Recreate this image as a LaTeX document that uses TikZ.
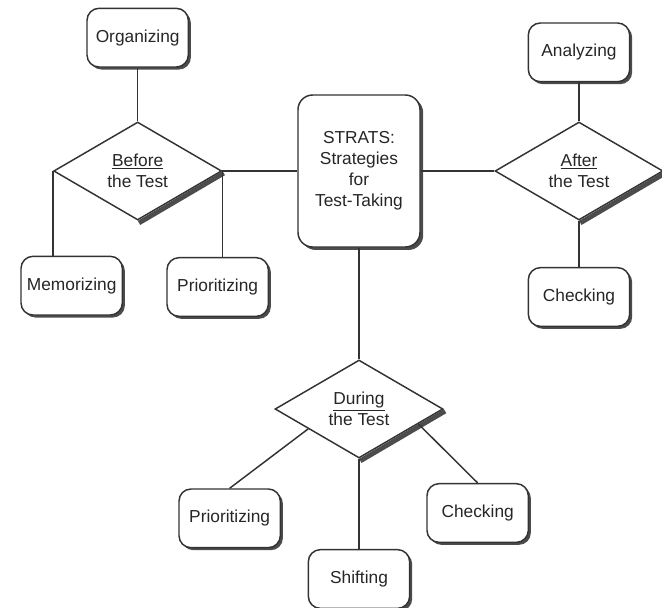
\documentclass[tikz,border=0pt]{standalone}
\usepackage{fontspec}
\setmainfont{Liberation Sans}
\usetikzlibrary{positioning,shapes.geometric,shadows,calc}

\begin{document}
\begin{tikzpicture}[on grid, font=\fontsize{13}{15.75}\selectfont, text=black!85]
	\tikzstyle{skill}=[draw=black!80, line width=1.1pt, rounded corners=9pt, fill=white, align=center, minimum width=76pt, minimum height=44pt, drop shadow={shadow xshift=1.9pt, shadow yshift=-1.9pt, fill=black!70, opacity=1}]
	\tikzstyle{phase}=[draw=black!80, line width=1.1pt, diamond, aspect=1.7, fill=white, inner sep=0pt, align=center, minimum width=126pt, minimum height=73.5pt]
	\tikzstyle{link}=[line width=1.1pt, black!80]
	\tikzstyle{edge shade}=[line width=3.6pt, black!70]
	\useasboundingbox (0,0) rectangle (496.5pt,-456pt);
	%Centre
	\node[skill, minimum width=91.5pt, minimum height=114pt, rounded corners=11pt, drop shadow={shadow xshift=2.4pt, shadow yshift=-2.2pt, fill=black!70, opacity=1}](strats) at (269.25pt,-128.25pt){STRATS:\\Strategies\\for\\Test-Taking};
	%Before the Test
	\node[phase](before)[left=166pt of strats]{\underline{Before}\\the Test};
	\node[skill](organizing)[above=100pt of before]{Organizing};
	\node[skill](memorizing)[below left=86pt and 49.5pt of before]{Memorizing};
	\node[skill](prioBefore)[below right=87pt and 60pt of before]{Prioritizing};
	%After the Test
	\node[phase](after)[right=165pt of strats]{\underline{After}\\the Test};
	\node[skill](analyzing)[above=89pt of after]{Analyzing};
	\node[skill](checkAfter)[below=94.5pt of after]{Checking};
	%During the Test
	\node[phase](during)[below=178.5pt of strats]{\underline{During}\\the Test};
	\node[skill](prioDuring)[below left=82pt and 97pt of during]{Prioritizing};
	\node[skill](shifting)[below=127.5pt of during]{Shifting};
	\node[skill](checkDuring)[below right=78pt and 89pt of during]{Checking};
	%Diamond shades
	\foreach \d in {before,after,during}
		\draw[edge shade] ($(\d.south)+(1pt,-1.6pt)$) -- ($(\d.east)+(1pt,-1.6pt)$);
	%Links
	\draw[link](before.east)--(strats.west);
	\draw[link](strats.east)--(after.west);
	\draw[link](strats.south)--(during.north);
	\draw[link](organizing.south)--(before.north);
	\draw[link](before.west)--(before.west |- memorizing.north);
	\draw[link](before.east)--(before.east |- prioBefore.north);
	\draw[link](analyzing.south)--(after.north);
	\draw[link](after.south)--(checkAfter.north);
	\draw[link]($(during.west)!0.4!(during.south)$)--(prioDuring.north);
	\draw[link](during.south)--(shifting.north);
	\draw[link]($(during.east)!0.3!(during.south)$)--(checkDuring.north);
\end{tikzpicture}
\end{document}
